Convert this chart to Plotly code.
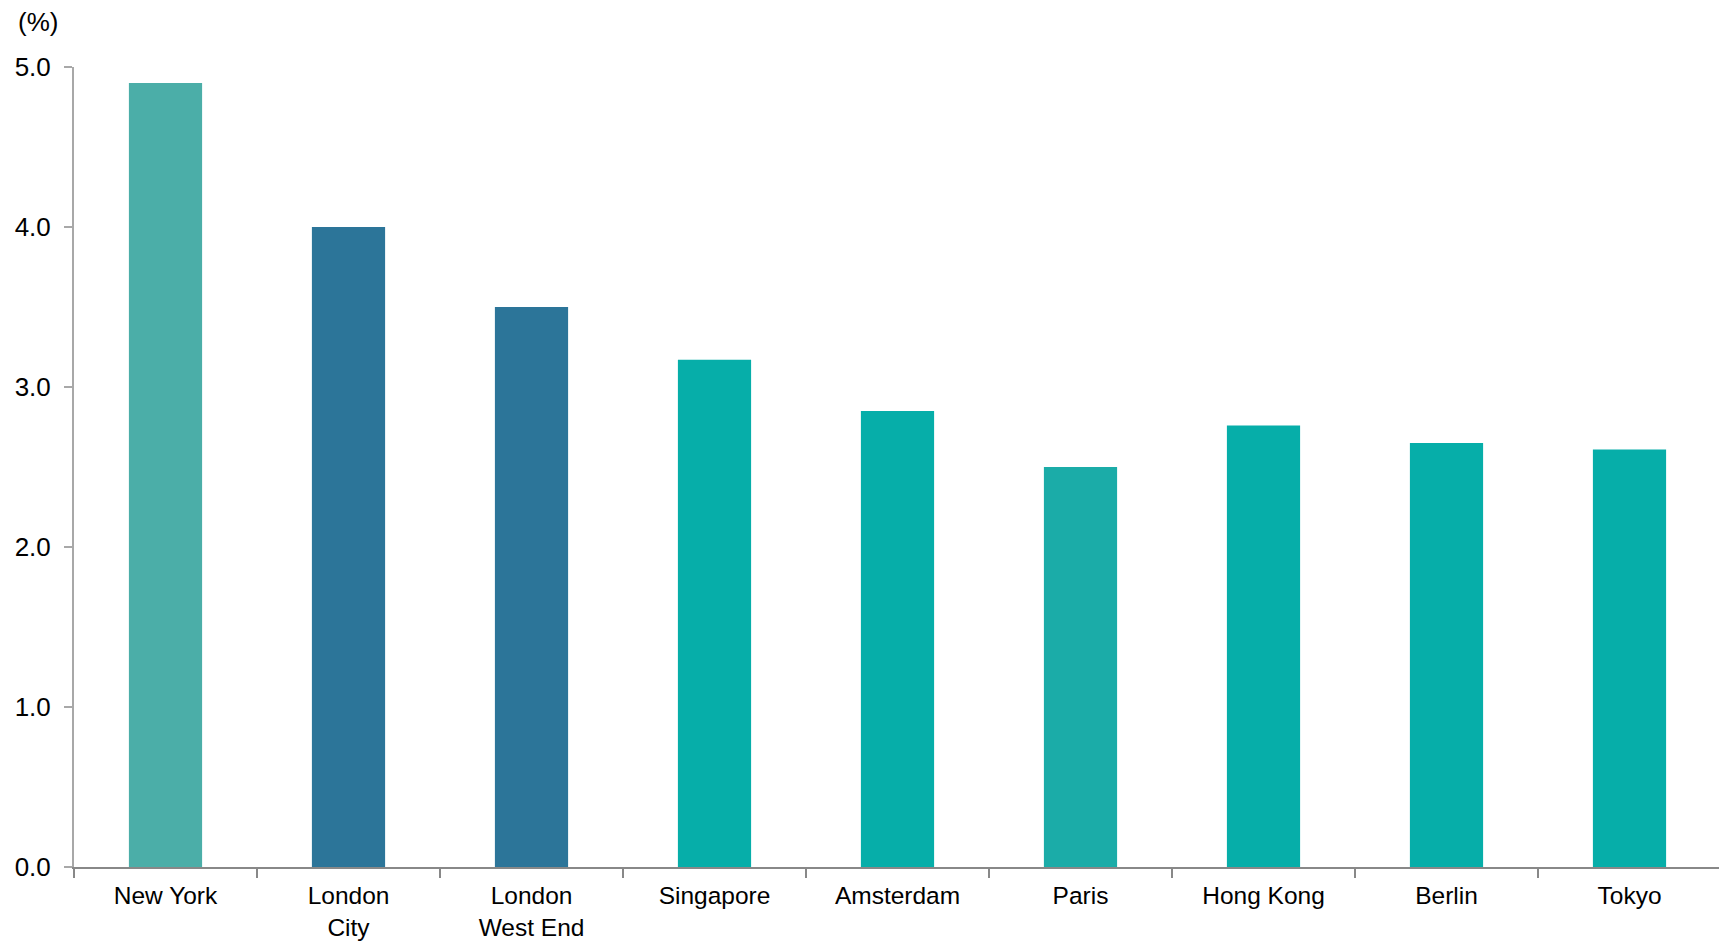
import plotly.graph_objects as go

# markets and yields
cities = ["New York", "London<br>City", "London<br>West End", "Singapore",
          "Amsterdam", "Paris", "Hong Kong", "Berlin", "Tokyo"]
values = [4.90, 4.00, 3.50, 3.17, 2.85, 2.50, 2.76, 2.65, 2.61]
colors = ["#4BAEA8", "#2C7599", "#2C7599", "#06AEA9",
          "#06AEA9", "#1BACA8", "#06AEA9", "#06AEA9", "#06AEA9"]

fig = go.Figure()

fig.add_trace(
    go.Bar(x=cities, y=values, marker=dict(color=colors, line=dict(width=0)),
           showlegend=False, hoverinfo="x+y")
)

# unit label above the y axis
fig.add_annotation(
    text="(%)", xref="paper", yref="paper", x=-0.0352, y=1.0, yshift=45,
    xanchor="left", yanchor="middle", showarrow=False,
    font=dict(size=26, color="#000000")
)

# page body has an 8px margin, so the figure is a bit smaller than the window
fig.update_layout(
    width=1719, height=936,
    margin=dict(l=66, r=6, t=59, b=77),
    paper_bgcolor="white", plot_bgcolor="white",
    font=dict(family="Liberation Sans, Arial, sans-serif", size=26, color="#000000"),
    bargap=0.6,
    xaxis=dict(
        showline=True, linecolor="#888888", linewidth=2,
        ticks="outside", tickson="boundaries", ticklen=9, tickcolor="#888888",
        tickwidth=2, showgrid=False, ticklabelstandoff=6, automargin=False,
        tickfont=dict(size=24.5)
    ),
    yaxis=dict(
        range=[0, 5], dtick=1, tickformat=".1f",
        showline=True, linecolor="#A8A8A8", linewidth=2,
        ticks="outside", ticklen=8, tickcolor="#A8A8A8", tickwidth=2,
        showgrid=False, zeroline=False, ticklabelstandoff=8, automargin=False
    ),
)

fig.write_html("out.html")
